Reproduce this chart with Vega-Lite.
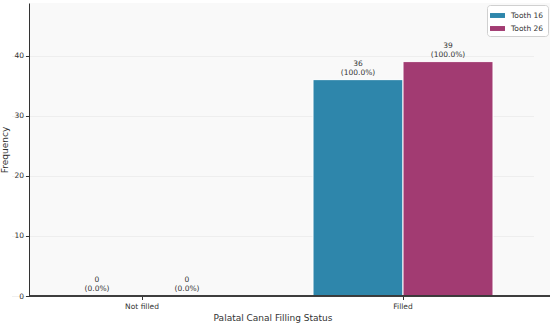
{
  "$schema": "https://vega.github.io/schema/vega-lite/v6.json",
  "width": 521,
  "height": 293,
  "autosize": {"type": "none"},
  "padding": {"left": 29, "top": 3, "right": 0, "bottom": 29},
  "background": "white",
  "config": {
    "font": "DejaVu Sans",
    "view": {"fill": "#f9f9f9", "stroke": null},
    "axis": {"labelFontSize": 7.5, "labelColor": "#333", "titleFontSize": 9, "titleColor": "#333", "titleFontWeight": "normal", "domainColor": "#333", "tickColor": "#333", "tickSize": 3.5}
  },
  "data": {
    "values": [
      {"status": "Not filled", "tooth": "Tooth 16", "count": 0, "label": "0\n(0.0%)"},
      {"status": "Not filled", "tooth": "Tooth 26", "count": 0, "label": "0\n(0.0%)"},
      {"status": "Filled", "tooth": "Tooth 16", "count": 36, "label": "36\n(100.0%)"},
      {"status": "Filled", "tooth": "Tooth 26", "count": 39, "label": "39\n(100.0%)"}
    ]
  },
  "layer": [
    {
      "mark": {"type": "bar", "stroke": "white", "strokeWidth": 1},
      "encoding": {
        "x": {
          "field": "status", "type": "nominal", "sort": ["Not filled", "Filled"],
          "scale": {"range": [-17.5, 504.5], "paddingInner": 0, "paddingOuter": 0},
          "axis": {"title": "Palatal Canal Filling Status", "labelAngle": 0, "domain": false, "titlePadding": 3, "labelPadding": 3}
        },
        "xOffset": {
          "field": "tooth", "type": "nominal",
          "scale": {"paddingInner": 0, "paddingOuter": 0.45}
        },
        "y": {
          "field": "count", "type": "quantitative",
          "scale": {"domain": [0, 48.75], "nice": false},
          "axis": {"title": "Frequency", "values": [0, 10, 20, 30, 40], "grid": true, "gridColor": "#e6e6e6", "gridWidth": 0.6, "titlePadding": 4}
        },
        "color": {
          "field": "tooth", "type": "nominal",
          "scale": {"domain": ["Tooth 16", "Tooth 26"], "range": ["#2e86ab", "#a23b72"]},
          "legend": {
            "title": null, "orient": "top-right", "offset": 2,
            "fillColor": "white", "strokeColor": "#d0d0d0", "cornerRadius": 3, "padding": 4,
            "labelFontSize": 7.5, "labelColor": "#333", "labelOffset": 7,
            "symbolType": "M-1.15,-0.38H1.15V0.38H-1.15Z", "symbolSize": 169, "symbolStrokeWidth": 0, "rowPadding": 3
          }
        }
      }
    },
    {
      "mark": {"type": "text", "baseline": "bottom", "dy": -12, "fontSize": 7.5, "color": "#333", "lineBreak": "\n", "lineHeight": 9},
      "encoding": {
        "x": {"field": "status", "type": "nominal", "sort": ["Not filled", "Filled"]},
        "xOffset": {"field": "tooth", "type": "nominal"},
        "y": {"field": "count", "type": "quantitative"},
        "text": {"field": "label"}
      }
    },
    {
      "mark": {"type": "rule", "color": "#333", "strokeWidth": 1},
      "encoding": {"y": {"datum": 0}}
    }
  ]
}
